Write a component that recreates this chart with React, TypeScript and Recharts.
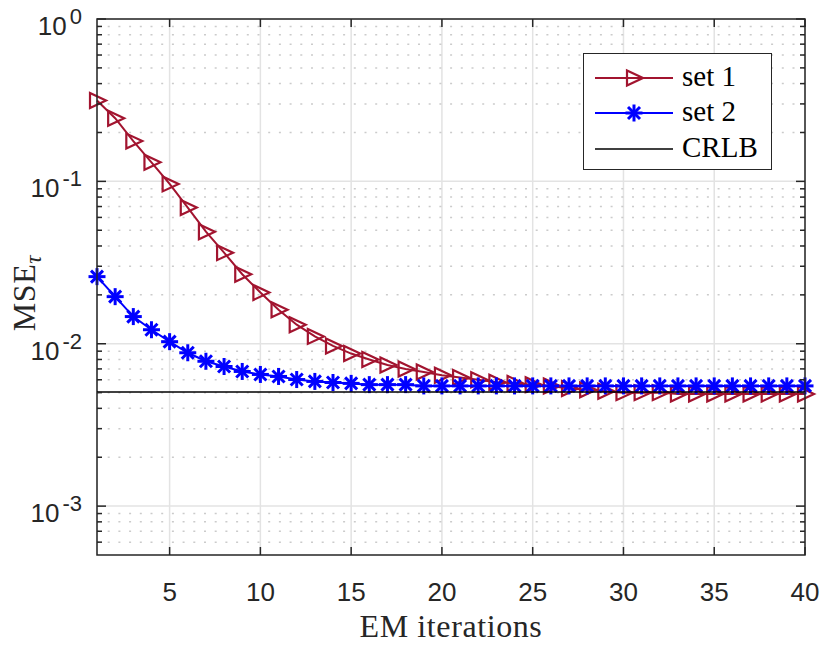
import React from "react";
import {
  LineChart,
  Line,
  XAxis,
  YAxis,
  CartesianGrid,
  ReferenceLine,
  ReferenceArea,
  Legend,
} from "recharts";

// EM iteration index
const iterations = [
  1, 2, 3, 4, 5, 6, 7, 8, 9, 10, 11, 12, 13, 14, 15, 16, 17, 18, 19, 20,
  21, 22, 23, 24, 25, 26, 27, 28, 29, 30, 31, 32, 33, 34, 35, 36, 37, 38, 39, 40,
];

// MSE of tau
const set1 = [
  0.315, 0.245, 0.177, 0.131, 0.0965, 0.069, 0.049, 0.0364, 0.0268, 0.0207,
  0.0162, 0.0131, 0.0111, 0.0097, 0.0087, 0.008, 0.0074, 0.007, 0.0067, 0.0064,
  0.0062, 0.006, 0.0058, 0.0057, 0.0056, 0.0055, 0.0053, 0.0052, 0.0051, 0.005,
  0.005, 0.005, 0.0049, 0.0049, 0.0049, 0.0049, 0.0049, 0.0049, 0.0049, 0.0049,
];
const set2 = [
  0.0259, 0.0195, 0.0147, 0.0122, 0.0103, 0.0088, 0.0078, 0.00724, 0.00675, 0.00647,
  0.00629, 0.00602, 0.00586, 0.00577, 0.0057, 0.0056, 0.0056, 0.0056, 0.0055, 0.0055,
  0.0055, 0.0055, 0.0055, 0.0055, 0.0055, 0.0055, 0.0055, 0.0055, 0.0055, 0.0055,
  0.0055, 0.0055, 0.0055, 0.0055, 0.0055, 0.0055, 0.0055, 0.0055, 0.0055, 0.0055,
];
const crlb = 0.00505;

const xTicks = [5, 10, 15, 20, 25, 30, 35, 40];
const yMajor = [0.001, 0.01, 0.1, 1];
const yMinor = [
  0.0006, 0.0007, 0.0008, 0.0009,
  0.002, 0.003, 0.004, 0.005, 0.006, 0.007, 0.008, 0.009,
  0.02, 0.03, 0.04, 0.05, 0.06, 0.07, 0.08, 0.09,
  0.2, 0.3, 0.4, 0.5, 0.6, 0.7, 0.8, 0.9,
];
const yTicks = [...yMinor, ...yMajor].sort((a, b) => a - b);

const data = iterations.map((it, i) => ({ it, set1: set1[i], set2: set2[i] }));

const LEFT = 97;
const RIGHT = 805;
const TOP = 19;
const BOTTOM = 555;
const AXIS = "#262626";
const RED = "#A2142F";
const BLUE = "#0000FF";
const SANS = "'Liberation Sans', Arial, Helvetica, sans-serif";
const SERIF = "'Liberation Serif', 'Times New Roman', serif";

const TriangleDot = (props: any) => {
  const { cx, cy } = props;
  if (cx == null || cy == null) return null;
  return (
    <polygon
      points={`${cx - 7},${cy - 7.5} ${cx - 7},${cy + 7.5} ${cx + 9},${cy}`}
      fill="none"
      stroke={RED}
      strokeWidth={2.2}
    />
  );
};

const StarDot = (props: any) => {
  const { cx, cy } = props;
  if (cx == null || cy == null) return null;
  const r = 8.5;
  const d = 6;
  return (
    <g stroke={BLUE} strokeWidth={3}>
      <line x1={cx - r} y1={cy} x2={cx + r} y2={cy} />
      <line x1={cx} y1={cy - r} x2={cx} y2={cy + r} />
      <line x1={cx - d} y1={cy - d} x2={cx + d} y2={cy + d} />
      <line x1={cx - d} y1={cy + d} x2={cx + d} y2={cy - d} />
    </g>
  );
};

const YTick = (props: any) => {
  const { y, payload } = props;
  const e = Math.log10(payload.value);
  const major = Math.abs(e - Math.round(e)) < 1e-6;
  const len = major ? 9 : 5;
  return (
    <g>
      <line x1={LEFT} x2={LEFT + len} y1={y} y2={y} stroke={AXIS} strokeWidth={1.5} />
      <line x1={RIGHT} x2={RIGHT - len} y1={y} y2={y} stroke={AXIS} strokeWidth={1.5} />
      {major && (
        <text x={82} y={y + 16} textAnchor="end" fontFamily={SANS} fontSize={26} fill={AXIS}>
          10
          <tspan dx={3} dy={-11} fontSize={22}>
            {Math.round(e)}
          </tspan>
        </text>
      )}
    </g>
  );
};

const XTick = (props: any) => {
  const { x, payload } = props;
  return (
    <g>
      <line x1={x} x2={x} y1={BOTTOM} y2={BOTTOM - 8} stroke={AXIS} strokeWidth={1.5} />
      <line x1={x} x2={x} y1={TOP} y2={TOP + 8} stroke={AXIS} strokeWidth={1.5} />
      <text x={x} y={601} textAnchor="middle" fontFamily={SANS} fontSize={26} fill={AXIS}>
        {payload.value}
      </text>
    </g>
  );
};

const XLabel = () => (
  <text
    x={451}
    y={637}
    textAnchor="middle"
    fontFamily={SERIF}
    fontSize={32}
    letterSpacing={0.6}
    fill={AXIS}
  >
    EM iterations
  </text>
);

const YLabel = () => (
  <text
    x={35}
    y={293}
    transform="rotate(-90, 35, 293)"
    textAnchor="middle"
    fontFamily={SERIF}
    fontSize={32}
    letterSpacing={0.6}
    fill={AXIS}
  >
    MSE
    <tspan dy={6} fontSize={23} fontStyle="italic">
      τ
    </tspan>
  </text>
);

const LegendBox = () => {
  const rows = [
    { name: "set 1", y: 24, color: RED, mark: "tri" },
    { name: "set 2", y: 59, color: BLUE, mark: "star" },
    { name: "CRLB", y: 95, color: "#000000", mark: "none" },
  ];
  return (
    <div
      style={{
        width: 189,
        height: 117,
        boxSizing: "border-box",
        border: `1.5px solid ${AXIS}`,
        background: "#ffffff",
      }}
    >
      <svg width={186} height={114} style={{ display: "block" }}>
        {rows.map((r) => (
          <g key={r.name}>
            <line x1={11} x2={89} y1={r.y} y2={r.y} stroke={r.color} strokeWidth={r.mark === "none" ? 1.5 : 2} />
            {r.mark === "tri" && <TriangleDot cx={50} cy={r.y} />}
            {r.mark === "star" && <StarDot cx={50} cy={r.y} />}
            <text x={98} y={r.y + 8} fontFamily={SERIF} fontSize={29} fill="#000">
              {r.name}
            </text>
          </g>
        ))}
      </svg>
    </div>
  );
};

export default function App() {
  return (
    <div style={{ position: "absolute", left: 0, top: 0, background: "#fff" }}>
      <LineChart
        width={822}
        height={646}
        data={data}
        margin={{ top: TOP, right: 822 - RIGHT, bottom: 0, left: 0 }}
      >
        <CartesianGrid horizontal={false} vertical stroke="#e3e3e3" strokeWidth={1.5} />
        {yMinor.map((v) => (
          <ReferenceLine
            key={`mn${v}`}
            y={v}
            stroke="#cbcbcb"
            strokeWidth={1.5}
            strokeDasharray="2 8.7"
            zIndex={-90}
          />
        ))}
        {yMajor.map((v) => (
          <ReferenceLine key={`mj${v}`} y={v} stroke="#e3e3e3" strokeWidth={1.5} zIndex={-80} />
        ))}
        <XAxis
          dataKey="it"
          type="number"
          domain={[1, 40]}
          ticks={xTicks}
          interval={0}
          height={646 - BOTTOM}
          tickLine={false}
          axisLine={false}
          tick={<XTick />}
          label={<XLabel />}
        />
        <YAxis
          type="number"
          scale="log"
          domain={[0.0005, 1]}
          ticks={yTicks}
          interval={0}
          width={LEFT}
          tickLine={false}
          axisLine={false}
          tick={<YTick />}
          label={<YLabel />}
        />
        <Line
          type="linear"
          dataKey="set1"
          stroke={RED}
          strokeWidth={2}
          dot={<TriangleDot />}
          activeDot={false}
          isAnimationActive={false}
        />
        <Line
          type="linear"
          dataKey="set2"
          stroke={BLUE}
          strokeWidth={2}
          dot={<StarDot />}
          activeDot={false}
          isAnimationActive={false}
        />
        <ReferenceLine y={crlb} stroke="#000000" strokeWidth={1.5} zIndex={700} />
        <ReferenceArea
          x1={1}
          x2={40}
          y1={0.0005}
          y2={1}
          fill="none"
          stroke={AXIS}
          strokeWidth={1.5}
          zIndex={650}
        />
        <Legend
          layout="horizontal"
          verticalAlign="middle"
          align="center"
          wrapperStyle={{ left: 583, top: 53, width: 189, height: 117 }}
          content={() => <LegendBox />}
        />
      </LineChart>
    </div>
  );
}
